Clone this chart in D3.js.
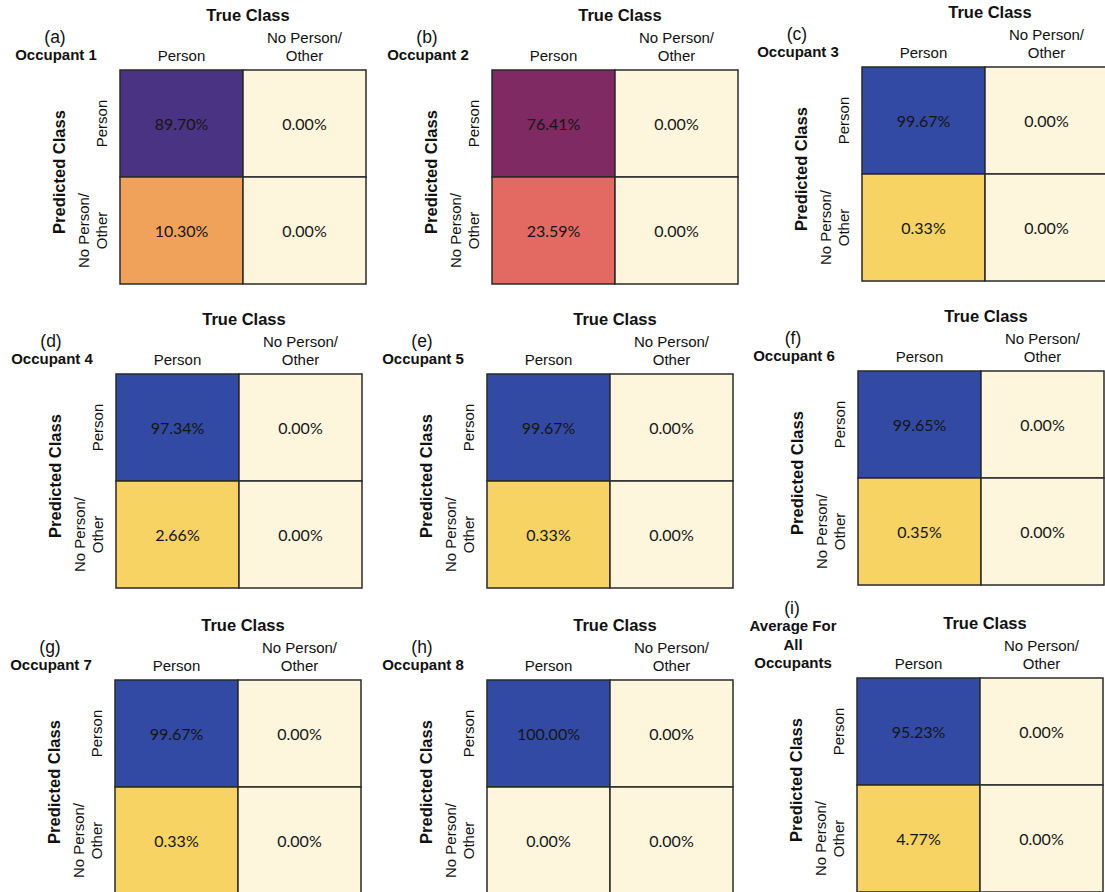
<!DOCTYPE html>
<html>
<head>
<meta charset="utf-8">
<script src="https://cdn.jsdelivr.net/npm/d3@7"></script>
<style>
  html, body { margin: 0; padding: 0; background: #fff; }
  svg { display: block; }
  .lab { font-family: "Liberation Sans", Arial, sans-serif; fill: #111; }
  .val { font-family: Lato, "Open Sans", sans-serif; fill: #151515; }
</style>
</head>
<body>
<svg id="chart" width="1105" height="892"></svg>
<script>
// Confusion matrices (percent) for each occupant and the overall average
const panelLetters = ["(a)", "(b)", "(c)", "(d)", "(e)", "(f)", "(g)", "(h)", "(i)"];
const panelNames = [
  ["Occupant 1"], ["Occupant 2"], ["Occupant 3"],
  ["Occupant 4"], ["Occupant 5"], ["Occupant 6"],
  ["Occupant 7"], ["Occupant 8"], ["Average For", "All", "Occupants"]
];
const classes = ["Person", "No Person/Other"];
const classLines = [["Person"], ["No Person/", "Other"]];

// predicted Person / true Person
const predPersonTruePerson = [89.70, 76.41, 99.67, 97.34, 99.67, 99.65, 99.67, 100.00, 95.23];
// predicted Person / true No Person
const predPersonTrueOther = [0.00, 0.00, 0.00, 0.00, 0.00, 0.00, 0.00, 0.00, 0.00];
// predicted No Person / true Person
const predOtherTruePerson = [10.30, 23.59, 0.33, 2.66, 0.33, 0.35, 0.33, 0.00, 4.77];
// predicted No Person / true No Person
const predOtherTrueOther = [0.00, 0.00, 0.00, 0.00, 0.00, 0.00, 0.00, 0.00, 0.00];

// colour bands for cell values
const colorBreaks = [0.005, 5, 15, 50, 80, 92];
const colorSteps = ["#fdf6dc", "#f6d362", "#f0a25b", "#e26a62", "#7f2a62", "#4b3383", "#324aa3"];

// ---- layout ----
const svg = d3.select("#chart");
const gridW = 246, gridH = 214;
// top-left corner of each matrix grid
const gridOrigins = [
  [120, 70], [492, 70], [862, 67],
  [116, 374], [487, 374], [858, 371],
  [115, 680], [487, 680], [857, 678]
];

const color = d3.scaleThreshold().domain(colorBreaks).range(colorSteps);
const fmt = v => v.toFixed(2) + "%";

panelLetters.forEach((letter, i) => {
  const [gx, gy] = gridOrigins[i];
  const g = svg.append("g").attr("transform", `translate(${gx},${gy})`);

  const x = d3.scaleBand().domain(classes).range([0, gridW]);
  const y = d3.scaleBand().domain(classes).range([0, gridH]);

  const cells = [
    { pred: classes[0], truth: classes[0], v: predPersonTruePerson[i] },
    { pred: classes[0], truth: classes[1], v: predPersonTrueOther[i] },
    { pred: classes[1], truth: classes[0], v: predOtherTruePerson[i] },
    { pred: classes[1], truth: classes[1], v: predOtherTrueOther[i] }
  ];

  g.selectAll("rect.cell").data(cells).join("rect")
    .attr("class", "cell")
    .attr("x", d => x(d.truth))
    .attr("y", d => y(d.pred))
    .attr("width", x.bandwidth())
    .attr("height", y.bandwidth())
    .attr("fill", d => color(d.v))
    .attr("stroke", "#2a2a2a")
    .attr("stroke-width", 1.5);

  g.selectAll("text.val").data(cells).join("text")
    .attr("class", "val")
    .attr("x", d => x(d.truth) + x.bandwidth() / 2)
    .attr("y", d => y(d.pred) + y.bandwidth() / 2)
    .attr("text-anchor", "middle")
    .attr("dominant-baseline", "central")
    .style("font-size", "16px")
    .text(d => fmt(d.v));

  // "True Class" title
  g.append("text").attr("class", "lab")
    .attr("x", gridW / 2 + 5).attr("y", -49)
    .attr("text-anchor", "middle")
    .style("font-size", "16.5px").style("font-weight", "bold")
    .text("True Class");

  // column headers
  classes.forEach((c, ci) => {
    const lines = classLines[ci];
    const t = g.append("text").attr("class", "lab")
      .attr("text-anchor", "middle").style("font-size", "15px");
    lines.forEach((ln, li) => {
      t.append("tspan")
        .attr("x", x(c) + x.bandwidth() / 2)
        .attr("y", -9 - (lines.length - 1 - li) * 18)
        .text(ln);
    });
  });

  // row headers (rotated)
  classes.forEach((c, ri) => {
    const lines = classLines[ri];
    const cy = y(c) + y.bandwidth() / 2;
    const t = g.append("text").attr("class", "lab")
      .attr("transform", `translate(0,${cy}) rotate(-90)`)
      .attr("text-anchor", "middle").style("font-size", "15px");
    lines.forEach((ln, li) => {
      t.append("tspan")
        .attr("x", 0)
        .attr("y", -13 - (lines.length - 1 - li) * 18)
        .text(ln);
    });
  });

  // "Predicted Class" axis title
  g.append("text").attr("class", "lab")
    .attr("transform", `translate(-55,${gridH / 2 - 5}) rotate(-90)`)
    .attr("text-anchor", "middle")
    .style("font-size", "16.5px").style("font-weight", "bold")
    .text("Predicted Class");

  // panel letter and name
  const names = panelNames[i];
  const labX = -64;
  names.forEach((nm, ni) => {
    g.append("text").attr("class", "lab")
      .attr("x", labX).attr("y", -10 - (names.length - 1 - ni) * 18.5)
      .attr("text-anchor", "middle")
      .style("font-size", "15px").style("font-weight", "bold")
      .text(nm);
  });
  g.append("text").attr("class", "lab")
    .attr("x", labX - 1).attr("y", -10 - names.length * 18.5 + 1)
    .attr("text-anchor", "middle")
    .style("font-size", "17.5px")
    .text(letter);
});
</script>
</body>
</html>
